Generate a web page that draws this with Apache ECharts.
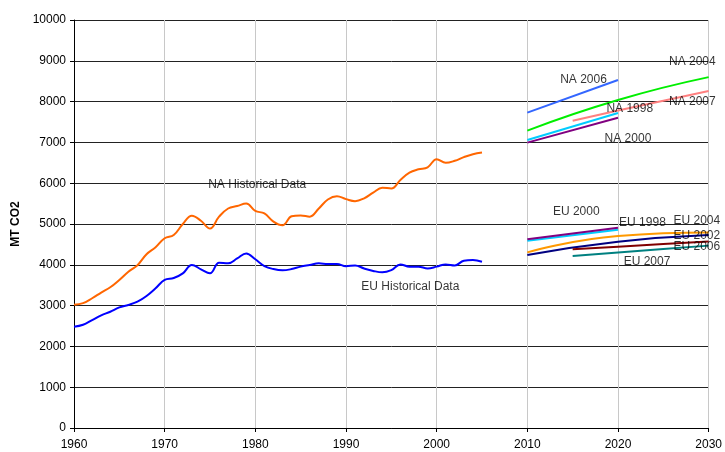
<!DOCTYPE html>
<html>
<head>
<meta charset="utf-8">
<script src="https://cdn.jsdelivr.net/npm/echarts@6/dist/echarts.min.js"></script>
<style>
  html, body { margin: 0; padding: 0; background: #fff; }
  #chart { width: 725px; height: 452px; }
</style>
</head>
<body>
<div id="chart"></div>
<script>
// historical emissions, 1960 - 2005
var histYears = [];
for (var yr = 1960; yr <= 2005; yr++) histYears.push(yr);

var naHist = [3020, 3060, 3180, 3320, 3450, 3630, 3830, 3990, 4260, 4430,
              4650, 4730, 5000, 5200, 5080, 4890, 5180, 5380, 5440, 5500,
              5320, 5260, 5060, 4970, 5190, 5210, 5180, 5380, 5600, 5680,
              5610, 5560, 5630, 5770, 5890, 5870, 6080, 6260, 6340, 6390,
              6590, 6500, 6550, 6640, 6710, 6750];

var euHist = [2480, 2530, 2645, 2760, 2850, 2955, 3015, 3095, 3235, 3425,
              3630, 3675, 3790, 3995, 3890, 3790, 4050, 4035, 4155, 4280,
              4135, 3970, 3895, 3865, 3895, 3955, 3995, 4035, 4020, 4020,
              3965, 3985, 3910, 3850, 3815, 3870, 4010, 3955, 3955, 3910,
              3955, 4010, 3985, 4100, 4115, 4075];

// projections (year, value)
var projYears3 = [2010, 2020, 2030];
var projYears2 = [2010, 2020];
var projYearsLate = [2015, 2020, 2025, 2030];

var na2006 = [7730, 8530];
var na2004 = [7290, 8040, 8600];
var na2007 = [7530, 7780, 8020, 8260];
var na1998 = [7060, 7720];
var na2000 = [6995, 7605];

var eu2000 = [4625, 4910];
var eu1998 = [4590, 4860];
var eu2004 = [4305, 4705, 4790];
var eu2002 = [4240, 4565, 4730];
var eu2006 = [4380, 4445, 4510, 4570];
var eu2007 = [4215, 4300, 4385, 4470];

// text labels inside the plot
var labelText = ["NA Historical Data", "EU Historical Data", "NA 2006", "NA 2004", "NA 1998",
                 "NA 2007", "NA 2000", "EU 2000", "EU 1998", "EU 2004", "EU 2002", "EU 2006", "EU 2007"];
var labelX = [1980.2, 1997.1, 2016.2, 2028.2, 2021.3, 2028.2, 2021.1, 2015.4, 2022.7, 2028.7, 2028.7, 2028.7, 2023.2];
var labelY = [5955, 3455, 8530, 8970, 7820, 7990, 7085, 5295, 5025, 5075, 4705, 4435, 4070];

function pairs(xs, ys) {
    return xs.map(function (x, i) { return [x, ys[i]]; });
}

function line(name, xs, ys, color, smooth) {
    return {
        name: name,
        type: 'line',
        data: pairs(xs, ys),
        showSymbol: false,
        smooth: smooth,
        lineStyle: { color: color, width: 2 },
        itemStyle: { color: color },
        z: 3
    };
}

var chart = echarts.init(document.getElementById('chart'), null, { renderer: 'canvas' });

var series = [
    line('NA Historical', histYears, naHist, '#ff6600', 0.4),
    line('EU Historical', histYears, euHist, '#0000ff', 0.4),
    line('NA 2006', projYears2, na2006, '#3366ff', false),
    line('NA 2004', projYears3, na2004, '#00ee00', true),
    line('NA 2007', projYearsLate, na2007, '#ff8080', false),
    line('NA 1998', projYears2, na1998, '#00ccff', false),
    line('NA 2000', projYears2, na2000, '#800080', false),
    line('EU 1998', projYears2, eu1998, '#00ccff', false),
    line('EU 2000', projYears2, eu2000, '#800080', false),
    line('EU 2004', projYears3, eu2004, '#ff9900', true),
    line('EU 2002', projYears3, eu2002, '#000080', true),
    line('EU 2006', projYearsLate, eu2006, '#800000', false),
    line('EU 2007', projYearsLate, eu2007, '#008080', false),
    {
        name: 'labels',
        type: 'scatter',
        symbolSize: 0,
        silent: true,
        z: 5,
        data: labelText.map(function (t, i) { return { value: [labelX[i], labelY[i]], name: t }; }),
        label: {
            show: true,
            position: 'inside',
            formatter: '{b}',
            color: '#000',
            fontFamily: 'Liberation Sans, Arial, sans-serif',
            fontSize: 12
        }
    }
];

chart.setOption({
    animation: false,
    backgroundColor: '#fff',
    grid: { left: 74, right: 12, top: 20, bottom: 24, containLabel: false },
    xAxis: {
        type: 'value',
        min: 1960,
        max: 2030,
        interval: 10,
        axisLine: { show: true, onZero: false, lineStyle: { color: '#000', width: 1 } },
        axisTick: { show: true, length: 4, lineStyle: { color: '#000' } },
        axisLabel: {
            color: '#000', fontSize: 12, margin: 11,
            fontFamily: 'Liberation Sans, Arial, sans-serif',
            formatter: function (v) { return String(v); }
        },
        splitLine: { show: true, lineStyle: { color: '#c8c8c8', width: 1 } }
    },
    yAxis: {
        type: 'value',
        min: 0,
        max: 10000,
        interval: 1000,
        name: 'MT CO2',
        nameLocation: 'middle',
        nameGap: 46,
        nameRotate: 90,
        nameTextStyle: {
            color: '#000', fontSize: 12, fontWeight: 'bold',
            fontFamily: 'Liberation Sans, Arial, sans-serif'
        },
        axisLine: { show: true, lineStyle: { color: '#000', width: 1 } },
        axisTick: { show: true, length: 4, lineStyle: { color: '#000' } },
        axisLabel: {
            color: '#000', fontSize: 12, margin: 8,
            fontFamily: 'Liberation Sans, Arial, sans-serif',
            formatter: function (v) { return String(v); }
        },
        splitLine: { show: true, lineStyle: { color: '#222', width: 1 } }
    },
    series: series
});
</script>
</body>
</html>
